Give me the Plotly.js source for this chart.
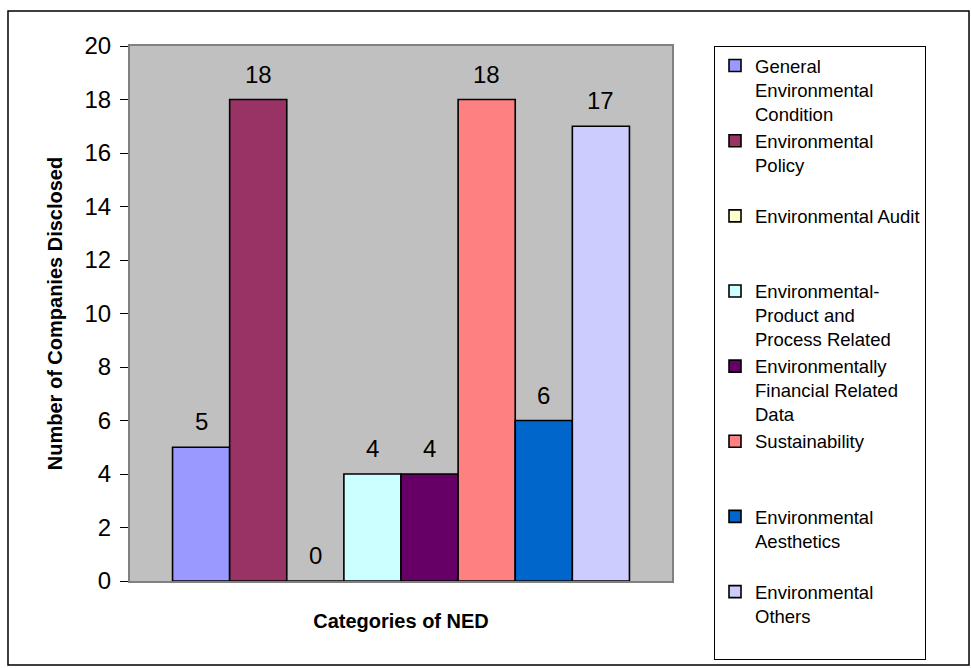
<!DOCTYPE html>
<html>
<head>
<meta charset="utf-8">
<script src="https://cdn.plot.ly/plotly-3.0.1.min.js"></script>
<style>
  html, body { margin: 0; padding: 0; background: #ffffff; }
  #chart { width: 971px; height: 668px; }
</style>
</head>
<body>
<div id="chart"></div>
<script>
// ---- data ----
const categories = ['NED'];
const seriesNames = [
  'General<br>Environmental<br>Condition',
  'Environmental<br>Policy<br> ',
  'Environmental Audit<br> <br> ',
  'Environmental-<br>Product and<br>Process Related',
  'Environmentally<br>Financial Related<br>Data',
  'Sustainability<br> <br> ',
  'Environmental<br>Aesthetics<br> ',
  'Environmental<br>Others<br> '
];
const seriesValues = [5, 18, 0, 4, 4, 18, 6, 17];
const seriesColors = ['#9999FF', '#993366', '#FFFFCC', '#CCFFFF', '#660066', '#FF8080', '#0066CC', '#CCCCFF'];
const yTickValues = [0, 2, 4, 6, 8, 10, 12, 14, 16, 18, 20];

// ---- chart ----
const FONT = 'Arial, "Liberation Sans", sans-serif';
const BARGAP = 0.157;
const n = seriesValues.length;

const traces = seriesValues.map((v, i) => ({
  type: 'bar',
  name: seriesNames[i],
  x: categories,
  y: [v],
  marker: { color: seriesColors[i], line: { color: '#000000', width: 1.6 } },
  hoverinfo: 'skip'
}));

// data labels above bars, placed through the axis scales
const barW = (1 - BARGAP) / n;
const annotations = seriesValues.map((v, i) => ({
  x: (i - (n - 1) / 2) * barW,
  y: v,
  xref: 'x', yref: 'y',
  text: String(v),
  showarrow: false,
  yanchor: 'bottom',
  yshift: 10,
  font: { family: FONT, size: 24, color: '#000000' }
}));

const layout = {
  width: 971,
  height: 668,
  margin: { l: 130, r: 299, t: 46, b: 87, pad: 0 },
  paper_bgcolor: '#ffffff',
  plot_bgcolor: '#C0C0C0',
  barmode: 'group',
  bargap: BARGAP,
  bargroupgap: 0,
  showlegend: true,
  font: { family: FONT, color: '#000000' },
  xaxis: {
    type: 'category',
    showticklabels: false,
    ticks: '',
    showgrid: false,
    zeroline: false,
    showline: true,
    linecolor: '#808080',
    linewidth: 2,
    mirror: true,
    title: { text: '<b>Categories of NED</b>', font: { family: FONT, size: 20, color: '#000000' }, standoff: 32 }
  },
  yaxis: {
    range: [0, 20],
    tickvals: yTickValues,
    ticktext: yTickValues.map(String),
    ticks: 'outside',
    ticklen: 8,
    tickwidth: 1,
    tickcolor: '#000000',
    ticklabelstandoff: 4,
    tickfont: { family: FONT, size: 24, color: '#000000' },
    showgrid: false,
    zeroline: false,
    showline: true,
    linecolor: '#808080',
    linewidth: 2,
    mirror: true,
    title: { text: '<b>Number of Companies Disclosed</b>', font: { family: FONT, size: 20, color: '#000000' }, standoff: 16 }
  },
  legend: {
    x: 1.0775,
    xanchor: 'left',
    y: 1,
    yanchor: 'top',
    maxheight: 640,
    bgcolor: '#ffffff',
    bordercolor: '#000000',
    borderwidth: 1,
    valign: 'top',
    traceorder: 'normal',
    font: { family: FONT, size: 18.5, color: '#000000' }
  },
  annotations: annotations,
  shapes: [{
    type: 'rect', xref: 'paper', yref: 'paper',
    x0: -0.2251, x1: 1.548, y0: -0.157, y1: 1.0654,
    line: { color: '#000000', width: 1.5 },
    fillcolor: 'rgba(0,0,0,0)',
    layer: 'below'
  }]
};

Plotly.newPlot('chart', traces, layout, { staticPlot: true, displayModeBar: false });
</script>
</body>
</html>
